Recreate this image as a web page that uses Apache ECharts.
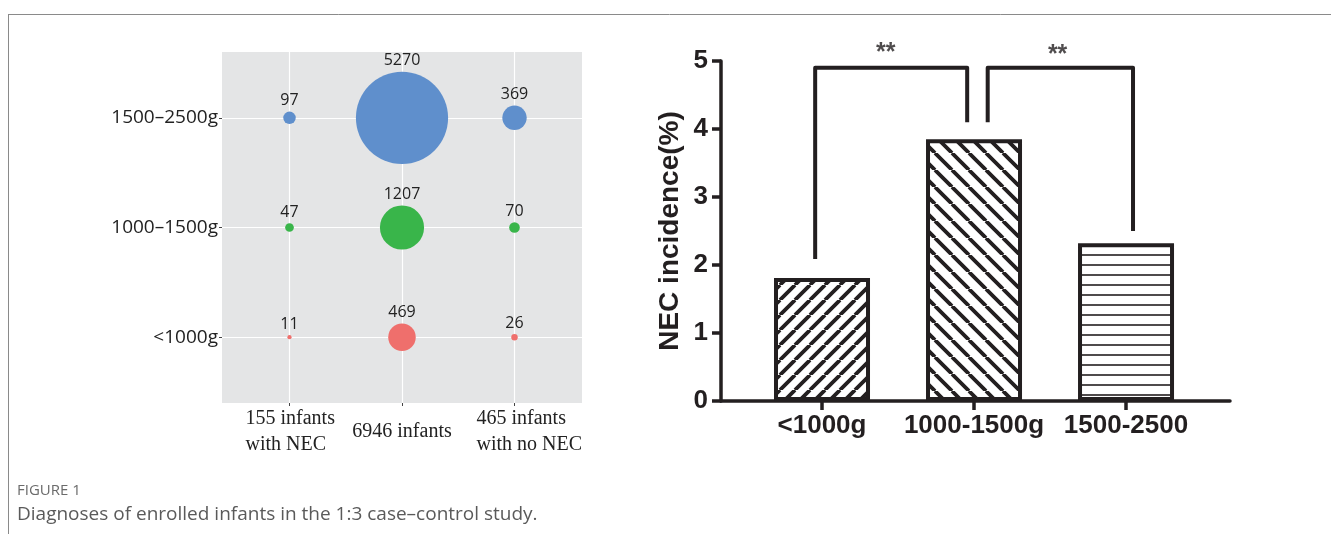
<!DOCTYPE html>
<html>
<head>
<meta charset="utf-8">
<script src="https://cdn.jsdelivr.net/npm/echarts@6/dist/echarts.min.js"></script>
<style>html,body{margin:0;padding:0;background:#fff;}#c{width:1331px;height:534px;}</style>
</head>
<body>
<div id="c"></div>
<script>
// ---- Data ----
const bubbleColumns = ['155 infants\nwith NEC', '6946 infants', '465 infants\nwith no NEC'];
const weightRows = ['<1000g', '1000\u20131500g', '1500\u20132500g'];
const countsLt1000 = [11, 469, 26];
const counts1000to1500 = [47, 1207, 70];
const counts1500to2500 = [97, 5270, 369];
const barCategories = ['<1000g', '1000-1500g', '1500-2500'];
const necIncidence = [1.81, 3.85, 2.32];
const incidenceTicks = [0, 1, 2, 3, 4, 5];
// significance brackets: [left leg x, right leg x, left leg bottom, right leg bottom, top]
const brackets = [[0.955, 1.955, 2.09, 4.10, 4.90], [2.09, 3.046, 4.10, 2.50, 4.90]];
const sigLabels = ['**', '**'];

// ---- Patterns ----
function stripe(kind, s, lw) {
  const c = document.createElement('canvas');
  c.width = s; c.height = s;
  const g = c.getContext('2d');
  g.fillStyle = '#fff'; g.fillRect(0, 0, s, s);
  g.strokeStyle = '#231f20'; g.lineWidth = lw;
  g.beginPath();
  if (kind === 'h') {
    g.moveTo(0, s / 2); g.lineTo(s, s / 2);
  } else {
    for (let k = -1; k <= 1; k++) {
      if (kind === '/') { g.moveTo(k * s, s); g.lineTo(k * s + s, 0); }
      else { g.moveTo(k * s, 0); g.lineTo(k * s + s, s); }
    }
  }
  g.stroke();
  return { image: c, repeat: 'repeat' };
}
const patterns = [stripe('/', 15, 3.8), stripe('\\', 17, 3.8), stripe('h', 10, 1.6)];

const ink = '#231f20';
const bubbleColors = ['#ef6f6c', '#39b54a', '#5f8fcc'];
const rowCounts = [countsLt1000, counts1000to1500, counts1500to2500];

const bubbleSeries = rowCounts.map((arr, r) => ({
  type: 'scatter', xAxisIndex: 0, yAxisIndex: 0,
  data: arr.map((v, i) => [i + 1, r + 1, v]),
  symbolSize: d => Math.max(4, 1.27 * Math.sqrt(d[2])),
  itemStyle: { color: bubbleColors[r], opacity: 1 },
  label: { show: true, position: 'top', distance: 3, formatter: p => p.value[2],
           fontSize: 16, color: '#222', fontFamily: 'Open Sans' },
  emphasis: { disabled: true }
}));

const bracketSeries = brackets.map(b => ({
  type: 'line', xAxisIndex: 1, yAxisIndex: 1, symbol: 'none', silent: true,
  data: [[b[0], b[2]], [b[0], b[4]], [b[1], b[4]], [b[1], b[3]]],
  lineStyle: { color: ink, width: 4, join: 'round', cap: 'butt' }, z: 5
}));

const starSeries = {
  type: 'scatter', xAxisIndex: 1, yAxisIndex: 1, symbolSize: 0, silent: true, clip: false,
  data: [[1.42, 5.12], [2.55, 5.09]],
  label: { show: true, position: 'inside', formatter: p => sigLabels[p.dataIndex],
           fontSize: 25, fontWeight: 'bold', color: ink, fontFamily: 'Liberation Sans' }
};

const xLabelStyle = { fontFamily: 'Liberation Serif', fontSize: 20, color: '#222', lineHeight: 26, align: 'left' };

const option = {
  animation: false,
  title: [
    { text: 'FIGURE 1', left: 12, top: 478, textStyle: { fontSize: 15, color: '#6b6b6b', fontWeight: 'normal', fontFamily: 'Open Sans' } },
    { text: 'Diagnoses of enrolled infants in the 1:3 case\u2013control study.', left: 12, top: 500,
      textStyle: { fontSize: 19, color: '#5a5a5a', fontWeight: 'normal', fontFamily: 'Open Sans' } }
  ],
  graphic: [
    { type: 'line', shape: { x1: 8, y1: 14.5, x2: 1331, y2: 14.5 }, style: { stroke: '#8a8a8a', lineWidth: 1 } },
    { type: 'line', shape: { x1: 8.5, y1: 14, x2: 8.5, y2: 534 }, style: { stroke: '#8a8a8a', lineWidth: 1 } }
  ],
  grid: [
    { left: 222, top: 52, width: 360, height: 351, show: true, backgroundColor: '#e4e5e6', borderWidth: 0 },
    { left: 721, top: 61, width: 509, height: 340 }
  ],
  xAxis: [
    { type: 'value', gridIndex: 0, min: 0.4, max: 3.6,
      axisLine: { show: false },
      axisTick: { show: true, length: 3, customValues: [1, 2, 3], lineStyle: { color: '#444' } },
      axisLabel: { customValues: [1, 2, 3],
                   formatter: v => {
                     const i = Math.round(v) - 1;
                     const key = ['c1', 'c2', 'c3'][i];
                     return bubbleColumns[i].split('\n').map(t => '{' + key + '|' + t + '}').join('\n');
                   },
                   rich: {
                     c1: Object.assign({ width: 88 }, xLabelStyle),
                     c2: Object.assign({}, xLabelStyle, { align: 'center' }),
                     c3: Object.assign({ width: 76 }, xLabelStyle)
                   },
                   fontFamily: 'Liberation Serif', fontSize: 20, color: '#222', lineHeight: 26,
                   verticalAlign: 'middle', margin: 29 },
      splitLine: { show: true, lineStyle: { color: '#ffffff', width: 1.2 } } },
    { type: 'value', gridIndex: 1, min: 0.3355, max: 3.684,
      axisLine: { show: true, onZero: false, lineStyle: { color: ink, width: 3.5 } },
      axisTick: { show: true, length: 9, customValues: [1, 2, 3], lineStyle: { color: ink, width: 3.5 } },
      axisLabel: { customValues: [1, 2, 3], formatter: v => barCategories[Math.round(v) - 1],
                   fontFamily: 'Liberation Sans', fontWeight: 'bold', fontSize: 26, color: ink, margin: 12 },
      splitLine: { show: false } }
  ],
  yAxis: [
    { type: 'value', gridIndex: 0, min: 0.4, max: 3.6,
      axisLine: { show: false },
      axisTick: { show: true, length: 3, customValues: [1, 2, 3], lineStyle: { color: '#444' } },
      axisLabel: { customValues: [1, 2, 3], formatter: v => weightRows[Math.round(v) - 1],
                   fontFamily: 'Open Sans', fontSize: 19, color: '#222', margin: 4 },
      splitLine: { show: true, lineStyle: { color: '#ffffff', width: 1.2 } } },
    { type: 'value', gridIndex: 1, min: 0, max: 5, interval: 1,
      name: 'NEC incidence(%)', nameLocation: 'middle', nameGap: 37,
      nameTextStyle: { fontFamily: 'Liberation Sans', fontWeight: 'bold', fontSize: 28, color: ink },
      axisLine: { show: true, lineStyle: { color: ink, width: 3.5 } },
      axisTick: { show: true, length: 9, lineStyle: { color: ink, width: 3.5 } },
      axisLabel: { formatter: v => incidenceTicks.includes(v) ? String(v) : '',
                   fontFamily: 'Liberation Sans', fontWeight: 'bold', fontSize: 26, color: ink, margin: 13 },
      splitLine: { show: false } }
  ],
  series: [
    ...bubbleSeries,
    { type: 'bar', xAxisIndex: 1, yAxisIndex: 1, barWidth: 96, silent: true,
      data: necIncidence.map((v, i) => ({ value: [i + 1, v], itemStyle: { color: patterns[i] } })),
      itemStyle: { borderColor: ink, borderWidth: 4 }, z: 3 },
    ...bracketSeries,
    starSeries
  ]
};
const chart = echarts.init(document.getElementById('c'), null, { renderer: 'canvas' });
chart.setOption(option);
</script>
</body>
</html>
